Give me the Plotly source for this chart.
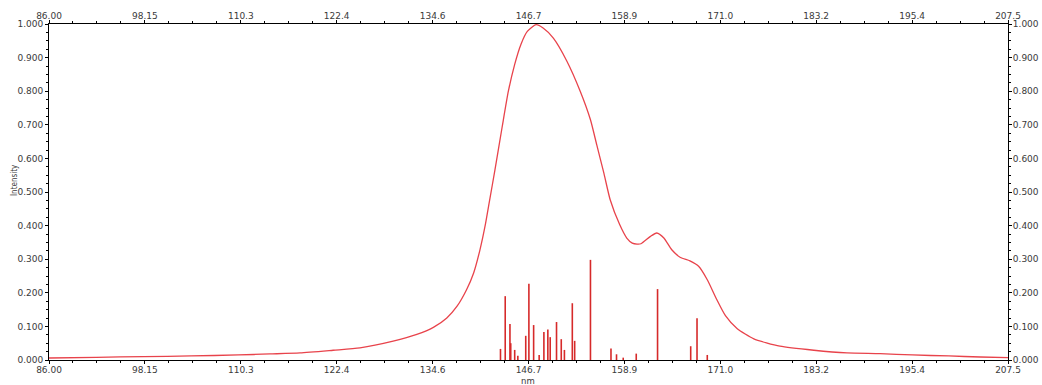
import plotly.graph_objects as go

# Stick spectrum (nm, relative intensity)
stick_nm = [143.2, 143.8, 144.4, 144.5, 145.0, 145.4, 146.4, 146.8, 147.4, 148.1, 148.7,
            149.2, 149.5, 150.3, 150.9, 151.3, 152.3, 152.6, 154.6, 157.2, 157.9, 158.75,
            160.4, 163.1, 167.3, 168.1, 169.4]
stick_int = [0.033, 0.190, 0.107, 0.050, 0.030, 0.013, 0.072, 0.227, 0.104, 0.015, 0.083,
             0.091, 0.068, 0.113, 0.062, 0.030, 0.169, 0.057, 0.298, 0.034, 0.017, 0.007,
             0.019, 0.211, 0.041, 0.124, 0.015]

# Broadened envelope
env_nm = [86.0, 92.0, 98.0, 104.0, 110.0, 114.0, 117.8, 122.0, 125.4, 129.6, 132.6, 134.7,
          136.4, 137.7, 138.9, 139.8, 140.6, 141.3, 141.8, 142.5, 143.4, 144.2, 145.0, 145.8,
          146.6, 147.7, 148.6, 149.9, 151.6, 153.3, 154.6, 155.4, 156.3,
          157.1, 158.3, 159.2, 159.9, 160.5, 161.0, 162.2, 163.0, 163.9, 164.9, 166.0,
          167.2, 168.3, 169.4, 170.6, 171.7, 173.2, 175.3, 178.6, 182.9, 187.1, 191.3,
          195.4, 200.0, 204.0, 207.5]
env_int = [0.006, 0.008, 0.010, 0.012, 0.015, 0.018, 0.021, 0.029, 0.036, 0.056, 0.076, 0.097,
           0.125, 0.160, 0.209, 0.259, 0.328, 0.405, 0.472, 0.566, 0.692, 0.800, 0.880, 0.940,
           0.978, 0.998, 0.988, 0.958, 0.890, 0.800, 0.715, 0.640, 0.556,
           0.477, 0.403, 0.363, 0.348, 0.345, 0.346, 0.368, 0.378, 0.363, 0.328, 0.305,
           0.295, 0.279, 0.239, 0.180, 0.132, 0.093, 0.063, 0.041, 0.029, 0.021, 0.019,
           0.015, 0.012, 0.009, 0.007]

x_tickvals = [86.0, 98.15, 110.3, 122.45, 134.6, 146.75, 158.9, 171.05, 183.2, 195.35, 207.5]
x_ticktext = ["86.00", "98.15", "110.3", "122.4", "134.6", "146.7", "158.9", "171.0",
              "183.2", "195.4", "207.5"]
y_tickvals = [0.0, 0.1, 0.2, 0.3, 0.4, 0.5, 0.6, 0.7, 0.8, 0.9, 1.0]

sx, sy = [], []
for n, v in zip(stick_nm, stick_int):
    sx += [n, n, None]
    sy += [0, v, None]

fig = go.Figure()
fig.add_trace(go.Scatter(x=sx, y=sy, mode="lines",
                         line=dict(color="#d62a2a", width=1.6), hoverinfo="skip"))
fig.add_trace(go.Scatter(x=env_nm, y=env_int, mode="lines", line_shape="spline",
                         line=dict(color="#e8434b", width=1.3, smoothing=0.6)))
# invisible trace to anchor top/right axes
fig.add_trace(go.Scatter(x=[86.0], y=[0], xaxis="x2", yaxis="y2", mode="markers",
                         marker=dict(opacity=0), hoverinfo="skip"))

FAM = "DejaVu Sans, Verdana, sans-serif"
font = dict(family=FAM, size=9, color="#3a3a3a")
common_x = dict(range=[86.0, 207.5], tickmode="array", tickvals=x_tickvals, ticktext=x_ticktext,
                showline=True, linecolor="#000000", linewidth=1, ticks="outside", ticklen=3,
                tickcolor="#000000", showgrid=False, zeroline=False, tickfont=font,
                automargin=False,
                minor=dict(tickmode="linear", tick0=86.0, dtick=3.0375, ticks="outside",
                           ticklen=2, tickcolor="#000000", showgrid=False))
common_y = dict(range=[0, 1.0], tickmode="array", tickvals=y_tickvals, tickformat=".3f",
                showline=True, linecolor="#000000", linewidth=1, ticks="outside", ticklen=3,
                tickcolor="#000000", showgrid=False, zeroline=False, tickfont=font,
                automargin=False,
                minor=dict(tickmode="linear", tick0=0, dtick=0.025, ticks="outside",
                           ticklen=2, tickcolor="#000000", showgrid=False))

fig.update_layout(
    width=1042, height=385,
    margin=dict(l=49, r=34, t=24, b=24.5),
    paper_bgcolor="white", plot_bgcolor="white",
    showlegend=False,
    xaxis=dict(**common_x, ticklabelstandoff=-2),
    yaxis=dict(**common_y),
    xaxis2=dict(**common_x, overlaying="x", side="top", ticklabelstandoff=-3),
    yaxis2=dict(**common_y, overlaying="y", side="right", ticklabelstandoff=-1),
    annotations=[
        dict(text="nm", xref="paper", yref="paper", x=0.4995, y=-0.062,
             xanchor="center", yanchor="middle", showarrow=False,
             font=dict(family=FAM, size=8.5, color="#3a3a3a")),
        dict(text="Intensity", xref="paper", yref="paper", x=-0.036, y=0.537,
             xanchor="center", yanchor="middle", showarrow=False, textangle=-90,
             font=dict(family="DejaVu Sans Condensed, DejaVu Sans, sans-serif", size=8, color="#3a3a3a")),
    ],
)

fig.write_html(
    "out.html",
    config={"displayModeBar": False},
    post_script="document.body.style.margin='0';document.documentElement.style.overflow='hidden';",
)
